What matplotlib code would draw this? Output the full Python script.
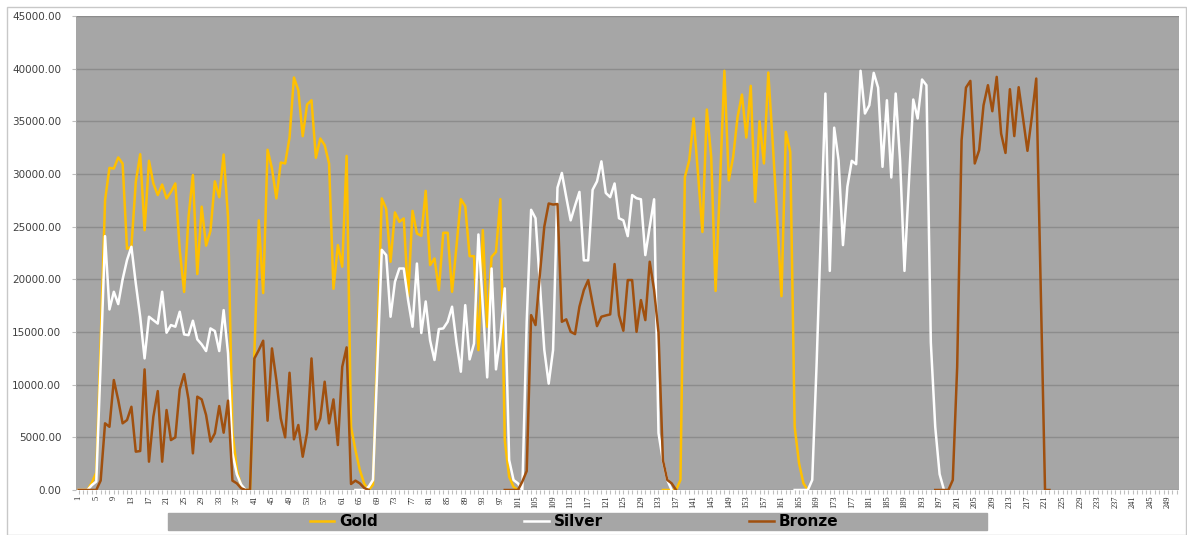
import matplotlib
matplotlib.use("Agg")
import matplotlib.pyplot as plt
from matplotlib.patches import Rectangle
import numpy as np

# daily values, None where a series has no data
gold = ([0, 0, 0, 700, 1650, 14000, 27500, 30580, 30520, 31570,
         30990, 22900, 23100, 29260, 31880, 24670, 31250, 29100, 28000, 29000,
         27680, 28300, 29100, 22800, 18800, 25900, 29900, 20500, 26900, 23200,
         24600, 29300, 27800, 31850, 25900, 5500, 2000, 300, 0, 0,
         13000, 25600, 18700, 32300, 30520, 27680, 31090, 31000, 33460, 39160,
         37960, 33590, 36600, 37000, 31540, 33370, 32740, 31000, 19100, 23250,
         21200, 31720, 6000, 3800, 1900, 600, 0, 500, 14000, 27680,
         26700, 21670, 26350, 25460, 25780, 18350, 26500, 24350, 24130, 28400,
         21350, 21980, 18980, 24420, 24420, 18820, 23090, 27610, 26950, 22200,
         22200, 13280, 24670, 15500, 22140, 22600, 27610, 4740, 1260, 300,
         0]
        + [None] * 32
        + [0, 0, 0, 0, 950, 29700, 31300, 35270, 30000, 24500,
           36120, 31630, 18900, 29100, 39800, 29400, 31630, 35400, 37540, 33460,
           38370, 27360, 35000, 31000, 39630, 33000, 25940, 18400, 34000, 32100,
           6000, 2530, 630, 0])

silver = ([0, 0, 0, 470, 800, 12000, 24100, 17140, 18820, 17650,
           20000, 21830, 23090, 19600, 16450, 12490, 16450, 16130, 15800, 18820,
           14930, 15660, 15500, 16920, 14770, 14700, 16070, 14300, 13820, 13190,
           15340, 15090, 13190, 17080, 12970, 3500, 1500, 500, 0]
          + [None] * 24
          + [0, 0, 0, 300, 950, 12000,
             22800, 22300, 16450, 19770, 21030, 21030, 18000, 15500, 21500, 14900,
             17900, 14200, 12340, 15280, 15340, 15970, 17400, 14000, 11230, 17550,
             12400, 13900, 24260, 17400, 10690, 21030, 11450, 14550, 19140, 2850,
             950, 630, 0, 16000, 26600, 25800, 19500, 13300, 10100, 13300,
             28700, 30100, 27800, 25600, 27000, 28300, 21800, 21800, 28500, 29300,
             31200, 28200, 27800, 29100, 25800, 25600, 24100, 28000, 27700, 27600,
             22300, 25000, 27600, 5400, 2800, 950, 0]
          + [None] * 27
          + [0, 0, 0, 0, 950, 12000, 25000, 37640, 20800, 34400,
             31300, 23250, 28800, 31250, 30930, 39800, 35740, 36530, 39600, 38200,
             30680, 37000, 29670, 37640, 31300, 20800, 29100, 37070, 35270, 38970,
             38430, 14000, 6000, 1500, 0])

bronze = ([0, 0, 0, 0, 0, 900, 6330, 6000, 10440, 8540,
           6330, 6640, 7900, 3640, 3700, 11450, 2690, 6960, 9390, 2690,
           7590, 4740, 5000, 9550, 11000, 8600, 3480, 8860, 8600, 7120,
           4590, 5380, 7970, 5440, 8480, 890, 630, 160, 0, 0,
           12490, 13280, 14170, 6580, 13440, 10440, 6800, 5000, 11130, 4810,
           6170, 3160, 5440, 12490, 5760, 6800, 10280, 6330, 8600, 4270,
           11700, 13540, 570, 890, 630, 200, 0]
          + [None] * 30
          + [0, 0, 0, 0, 800, 1800, 16600, 15660, 20500, 25000,
             27200, 27100, 27150, 15970, 16200, 15020, 14800, 17400, 18980, 19930,
             17700, 15560, 16450, 16570, 16670, 21450, 16600, 15120, 19930, 19930,
             15020, 18030, 16130, 21670, 18980, 14930, 2850, 950, 630, 0]
          + [None] * 58
          + [0, 0, 0, 0, 950, 11700, 33200, 38200, 38840, 31000,
             32260, 36530, 38430, 35960, 39220, 33840, 32000, 38050, 33600, 38240,
             35270, 32200, 35430, 39060, 19500, 0, 0])

n_days = 251
series_names = ["Gold", "Silver", "Bronze"]
series_colors = ["#FFC000", "#FFFFFF", "#A0500F"]


def to_array(values):
    arr = np.full(n_days, np.nan)
    arr[:len(values)] = [np.nan if v is None else v for v in values]
    return arr


W, H = 1187, 535
fig = plt.figure(figsize=(W / 100, H / 100), dpi=100)
fig.patches.append(Rectangle((7 / W, 0), (W - 8) / W, (H - 7) / H, transform=fig.transFigure,
                             fill=False, edgecolor="#C8C8C8", lw=1))

ax = fig.add_axes([76.5 / W, 45 / H, (1179 - 76.5) / W, (490 - 16) / H])
ax.set_facecolor("#A6A6A6")
days = np.arange(1, n_days + 1)

lines = []
for name, color, vals in zip(series_names, series_colors, [gold, silver, bronze]):
    ln, = ax.plot(days, to_array(vals), color=color, lw=1.8, label=name)
    lines.append(ln)

ax.set_xlim(0.5, n_days + 0.5)
ax.set_ylim(0, 45000)
ax.set_yticks(np.arange(0, 45001, 5000))
ax.set_yticklabels([f"{v:.2f}" for v in np.arange(0, 45001, 5000)],
                   fontsize=7.5, color="#404040")
ax.set_xticks(np.arange(1, n_days + 1, 4))
ax.set_xticklabels([str(d) for d in range(1, n_days + 1, 4)], rotation=90,
                   fontsize=6, family="Liberation Serif", color="#262626")
ax.set_xticks(days, minor=True)
ax.grid(axis="y", color="#8C8C8C", lw=1)
ax.set_axisbelow(True)
for s in ax.spines.values():
    s.set_visible(False)
ax.tick_params(axis="x", which="both", length=3, color="#BFBFBF", width=0.8, pad=1)
ax.tick_params(axis="y", length=3, color="#BFBFBF", pad=8)

# legend strip
fig.patches.append(Rectangle((168 / W, 5 / H), (987 - 168) / W, 17 / H,
                             transform=fig.transFigure, color="#A6A6A6", zorder=0))
fig.legend(lines, series_names, loc="center", bbox_to_anchor=(574 / W, 13.5 / H),
           ncol=3, frameon=False, handlelength=1.6, handletextpad=0.3,
           columnspacing=9.6, borderpad=0,
           prop={"family": "DejaVu Sans", "weight": "bold", "size": 11})

fig.savefig("out.png", dpi=100)
